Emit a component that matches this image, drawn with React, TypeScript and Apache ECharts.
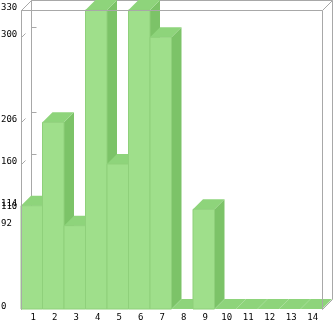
import React, { useEffect, useRef } from "react";
import * as echarts from "echarts";

const categories = ["1", "2", "3", "4", "5", "6", "7", "8", "9", "10", "11", "12", "13", "14"];
const values = [114, 206, 92, 330, 160, 330, 300, 0, 110, 0, 0, 0, 0, 0];
const yTickValues = [0, 92, 110, 114, 160, 206, 300, 330];

const GL = 21;
const GT = 10;
const GW = 301;
const GH = 299;
const D = 10;
const FRAME = "#a8a8a8";
const FRONT = "#9fdf8b";
const TOP = "#8ed47b";
const SIDE = "#7cc368";
const EDGE = "#8fd07b";
const FONT = '9px "DejaVu Sans Mono"';

export default function App() {
  const ref = useRef<HTMLDivElement>(null);
  useEffect(() => {
    if (!ref.current) return;
    const chart = echarts.init(ref.current, undefined, { renderer: "svg" });
    const L = GL + 0.5, T = GT + 0.5, R = GL + GW + 0.5, B = GT + GH + 0.5;
    const line = (x1: number, y1: number, x2: number, y2: number, z: number) => ({
      type: "line",
      z,
      silent: true,
      shape: { x1, y1, x2, y2 },
      style: { stroke: FRAME, lineWidth: 1 },
    });
    chart.setOption({
      animation: false,
      grid: { left: GL, top: GT, width: GW, height: GH },
      xAxis: {
        type: "category",
        data: categories,
        boundaryGap: true,
        axisLine: { show: false },
        axisTick: { show: false },
        splitLine: { show: false },
        axisLabel: {
          show: true,
          interval: 0,
          margin: 3,
          color: "#000",
          fontFamily: "DejaVu Sans Mono",
          fontSize: 9,
          padding: [0, 0, 0, 3],
        },
      },
      yAxis: {
        type: "value",
        min: 0,
        max: 330,
        axisLine: { show: false },
        axisTick: { show: false },
        axisLabel: { show: false },
        splitLine: { show: false },
      },
      graphic: [
        line(L + D, T - D, R + D, T - D, 1),
        line(L + D, T - D, L + D, B - D, 1),
        line(R + D, T - D, R + D, B - D, 1),
        line(L, T, R, T, 100),
        line(L, T, L, B, 100),
        line(R, T, R, B, 100),
        line(L, T, L + D, T - D, 100),
        line(R, T, R + D, T - D, 100),
        line(R, B, R + D, B - D, 100),
      ],
      series: [
        {
          type: "custom",
          z: 2,
          clip: false,
          silent: true,
          data: yTickValues.map((v) => [0, v]),
          encode: { x: 0, y: 1 },
          renderItem: (params: any, api: any) => {
            const v = api.value(1);
            const p = api.coord([0, v]);
            const y = Math.round(p[1]) + 0.5;
            return {
              type: "group",
              children: [
                {
                  type: "text",
                  style: {
                    text: String(v),
                    x: 1,
                    y: p[1] - 3,
                    fill: "#000",
                    font: FONT,
                    align: "left",
                    verticalAlign: "middle",
                  },
                },
                {
                  type: "line",
                  shape: { x1: L, y1: y, x2: L + 4, y2: y - 4 },
                  style: { stroke: FRAME, lineWidth: 1 },
                },
                {
                  type: "line",
                  shape: { x1: L + D, y1: y - D, x2: L + D + 5, y2: y - D },
                  style: { stroke: FRAME, lineWidth: 1 },
                },
              ],
            };
          },
        },
        {
          type: "custom",
          z: 5,
          clip: false,
          silent: true,
          data: values.map((v, i) => [i, v]),
          encode: { x: 0, y: 1 },
          renderItem: (params: any, api: any) => {
            const idx = api.value(0);
            const v = api.value(1);
            const base = api.coord([idx, 0]);
            const top = api.coord([idx, v]);
            const bw = api.size([1, 0])[0];
            const x0 = base[0] - bw / 2;
            const x1 = x0 + bw;
            const yb = base[1];
            const yt = top[1];
            const children: any[] = [
              {
                type: "polygon",
                shape: { points: [[x1, yt], [x1 + D, yt - D], [x1 + D, yb - D], [x1, yb]] },
                style: { fill: SIDE },
              },
              {
                type: "polygon",
                shape: { points: [[x0, yt], [x0 + D, yt - D], [x1 + D, yt - D], [x1, yt]] },
                style: { fill: TOP },
              },
            ];
            if (yb - yt > 0.5) {
              children.push({
                type: "rect",
                shape: { x: x0, y: yt, width: bw, height: yb - yt },
                style: { fill: FRONT, stroke: EDGE, lineWidth: 1 },
              });
            }
            return { type: "group", children };
          },
        },
      ],
    });
    return () => chart.dispose();
  }, []);
  return (
    <div
      ref={ref}
      style={{ position: "fixed", left: 0, top: 0, width: 333, height: 321 }}
    />
  );
}
